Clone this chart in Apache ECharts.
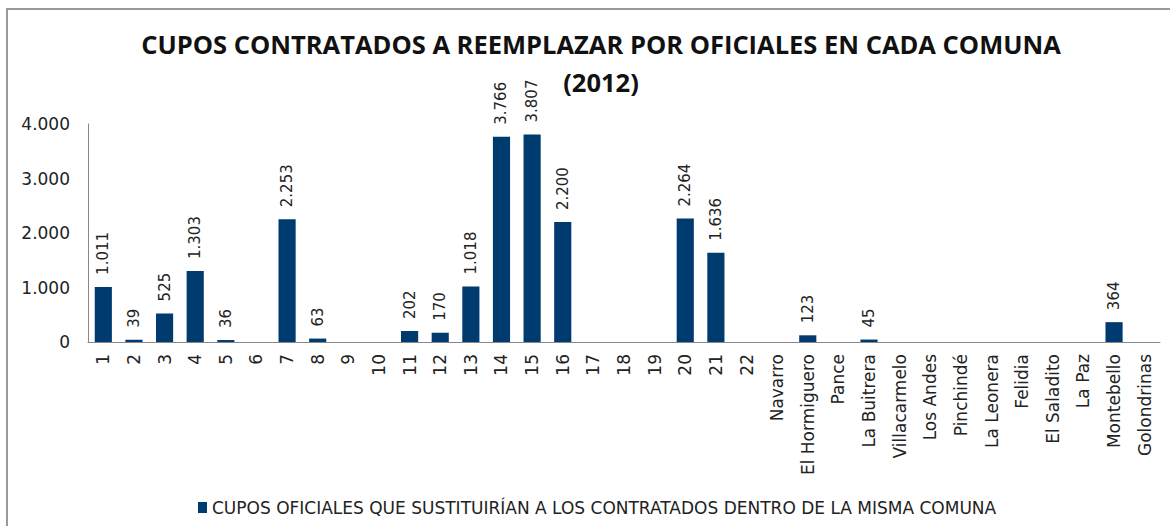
<!DOCTYPE html>
<html>
<head>
<meta charset="utf-8">
<script src="https://cdn.jsdelivr.net/npm/echarts@6/dist/echarts.min.js"></script>
<style>
  html, body { margin: 0; padding: 0; background: #fff; overflow: hidden; }
  #frame { position: absolute; left: 6px; top: 8px; width: 1180px; height: 540px; border: 2px solid #999; box-sizing: border-box; }
  #chart { position: absolute; left: 0; top: 0; width: 1170px; height: 526px; }
</style>
</head>
<body>
<div id="frame"></div>
<div id="chart"></div>
<script>
// Comunas y corregimientos
var categories = ['1', '2', '3', '4', '5', '6', '7', '8', '9', '10', '11', '12', '13', '14', '15', '16',
  '17', '18', '19', '20', '21', '22', 'Navarro', 'El Hormiguero', 'Pance', 'La Buitrera', 'Villacarmelo',
  'Los Andes', 'Pinchindé', 'La Leonera', 'Felidia', 'El Saladito', 'La Paz', 'Montebello', 'Golondrinas'];
var cupos = [1011, 39, 525, 1303, 36, 0, 2253, 63, 0, 0, 202, 170, 1018, 3766, 3807, 2200,
  0, 0, 0, 2264, 1636, 0, 0, 123, 0, 45, 0, 0, 0, 0, 0, 0, 0, 364, 0];
var yTicks = [0, 1000, 2000, 3000, 4000];
var seriesName = 'CUPOS OFICIALES QUE SUSTITUIRÍAN A LOS CONTRATADOS DENTRO DE LA MISMA COMUNA';

function miles(v) {
  return String(v).replace(/\B(?=(\d{3})+(?!\d))/g, '.');
}

var chart = echarts.init(document.getElementById('chart'), null, { renderer: 'svg' });
chart.setOption({
  animation: false,
  title: {
    text: 'CUPOS CONTRATADOS A REEMPLAZAR POR OFICIALES EN CADA COMUNA\n(2012)',
    left: 596,
    textAlign: 'center',
    top: 20,
    textStyle: { fontFamily: 'Open Sans', fontWeight: 'bold', fontSize: 25.5, color: '#111', lineHeight: 38 }
  },
  legend: {
    bottom: 5,
    left: 193,
    icon: 'rect',
    itemWidth: 9,
    itemHeight: 11,
    itemGap: 4,
    textStyle: { fontFamily: 'DejaVu Sans', fontSize: 17, color: '#222' },
    data: [seriesName]
  },
  grid: { left: 88, right: 10, top: 124, bottom: 184, containLabel: false },
  xAxis: {
    type: 'category',
    data: categories,
    axisLine: { lineStyle: { color: '#888', width: 1 } },
    axisTick: { show: false },
    axisLabel: {
      interval: 0,
      rotate: 90,
      margin: 12,
      fontFamily: 'DejaVu Sans',
      fontSize: 17,
      color: '#222'
    }
  },
  yAxis: {
    type: 'value',
    min: yTicks[0],
    max: yTicks[yTicks.length - 1],
    interval: 1000,
    axisLine: { show: true, lineStyle: { color: '#888', width: 1 } },
    axisTick: { show: false },
    splitLine: { show: false },
    axisLabel: {
      margin: 18,
      fontFamily: 'DejaVu Sans',
      fontSize: 17,
      color: '#222',
      formatter: function (v) { return miles(v); }
    }
  },
  series: [{
    name: seriesName,
    type: 'bar',
    data: cupos,
    barWidth: '56%',
    itemStyle: { color: '#003b70' },
    label: {
      show: true,
      position: 'top',
      rotate: 90,
      align: 'left',
      verticalAlign: 'middle',
      distance: 12,
      fontFamily: 'DejaVu Sans',
      fontSize: 15,
      color: '#222',
      formatter: function (p) { return p.value > 0 ? miles(p.value) : ''; }
    }
  }]
});
</script>
</body>
</html>
